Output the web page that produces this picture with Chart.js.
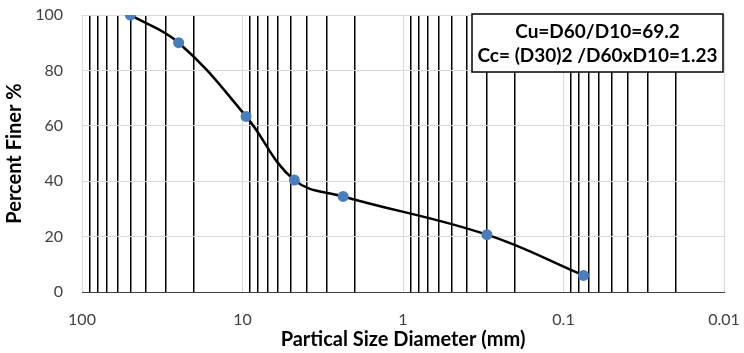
<!DOCTYPE html>
<html>
<head>
<meta charset="utf-8">
<script src="https://cdn.jsdelivr.net/npm/chart.js@4/dist/chart.umd.min.js"></script>
<style>
  html, body { margin: 0; padding: 0; background: #fff; }
  #wrap { width: 744px; height: 353px; position: relative; }
</style>
</head>
<body>
<div id="wrap"><canvas id="grading"></canvas></div>
<script>
// sieve sizes (mm) and percent passing
var sieveSizes = [50, 25, 9.5, 4.75, 2.36, 0.3, 0.075];
var percentFiner = [100, 90, 63.4, 40.4, 34.5, 20.7, 6.0];

// log grid: decades get a labelled grey line, 2..9 multiples get black lines
var decades = [0.01, 0.1, 1, 10, 100];
var decadeLabels = ['0.01', '0.1', '1', '10', '100'];

var boxLines = ['Cu=D60/D10=69.2', 'Cc= (D30)2 /D60xD10=1.23'];

var FONT = 'Lato, "Open Sans", sans-serif';

var gridValues = [];
decades.forEach(function (d, i) {
  gridValues.push(d);
  if (i < decades.length - 1) {
    for (var m = 2; m <= 9; m++) gridValues.push(+(d * m).toFixed(4));
  }
});

function isDecade(v) {
  return decades.some(function (d) { return Math.abs(d - v) < 1e-9; });
}

var points = sieveSizes.map(function (s, i) { return { x: s, y: percentFiner[i] }; });

// white box with the coefficients, top-right of the plot
var coefBox = {
  id: 'coefBox',
  afterDraw: function (chart) {
    var ctx = chart.ctx, area = chart.chartArea;
    var w = 251, h = 58;
    var x = area.right - w - 1, y = area.top - 1;
    ctx.save();
    ctx.fillStyle = '#fff';
    ctx.fillRect(x, y, w, h);
    ctx.strokeStyle = '#000';
    ctx.lineWidth = 1.5;
    ctx.strokeRect(x, y, w, h);
    ctx.fillStyle = '#000';
    ctx.font = 'bold 19px ' + FONT;
    ctx.textAlign = 'center';
    ctx.textBaseline = 'middle';
    ctx.fillText(boxLines[0], x + w / 2, y + 18);
    ctx.fillText(boxLines[1], x + w / 2, y + 42);
    ctx.restore();
  }
};

new Chart(document.getElementById('grading'), {
  type: 'scatter',
  data: {
    datasets: [{
      data: points,
      showLine: true,
      borderColor: '#000',
      borderWidth: 2.5,
      tension: 0.4,
      pointRadius: 5.5,
      pointHoverRadius: 5.5,
      pointBackgroundColor: '#4A7EBB',
      pointBorderColor: '#4A7EBB',
      pointBorderWidth: 0
    }]
  },
  options: {
    responsive: true,
    maintainAspectRatio: false,
    animation: false,
    layout: { padding: { top: 15, right: 20, left: 0, bottom: 0 } },
    plugins: {
      legend: { display: false },
      tooltip: { enabled: false }
    },
    scales: {
      x: {
        type: 'logarithmic',
        reverse: true,
        min: 0.01,
        max: 100,
        afterBuildTicks: function (scale) {
          scale.ticks = gridValues.map(function (v) { return { value: v }; });
        },
        afterFit: function (scale) { scale.height = 61; },
        grid: {
          drawTicks: false,
          color: function (c) { return c.tick && isDecade(c.tick.value) ? '#d9d9d9' : '#000'; },
          lineWidth: function (c) { return c.tick && isDecade(c.tick.value) ? 1 : 1.5; }
        },
        border: { color: '#404040', width: 1 },
        ticks: {
          autoSkip: false,
          maxRotation: 0,
          padding: 18,
          color: '#404040',
          font: { family: FONT, size: 16 },
          callback: function (v) {
            var i = decades.findIndex(function (d) { return Math.abs(d - v) < 1e-9; });
            return i >= 0 ? decadeLabels[i] : '';
          }
        },
        title: {
          display: true,
          text: 'Partical Size Diameter (mm)',
          color: '#000',
          font: { family: FONT, size: 20, weight: 'bold' },
          padding: { top: 0, bottom: 1 }
        }
      },
      y: {
        min: 0,
        max: 100,
        afterFit: function (scale) { scale.width = 82; },
        grid: {
          drawTicks: true,
          tickLength: 17,
          tickColor: 'rgba(0,0,0,0)',
          color: '#d9d9d9',
          lineWidth: 1
        },
        border: { display: false },
        ticks: {
          stepSize: 20,
          padding: 2,
          color: '#404040',
          font: { family: FONT, size: 16 }
        },
        title: {
          display: true,
          text: 'Percent Finer %',
          color: '#000',
          font: { family: FONT, size: 20, weight: 'bold' },
          padding: { top: 3, bottom: 0 }
        }
      }
    }
  },
  plugins: [coefBox]
});
</script>
</body>
</html>
